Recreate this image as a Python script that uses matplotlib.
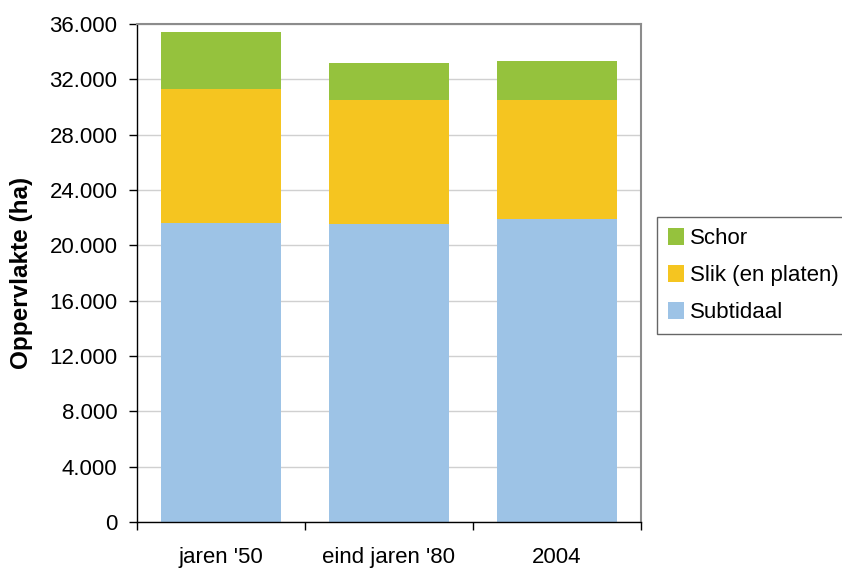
import numpy as np
import matplotlib.pyplot as plt
from matplotlib.ticker import FuncFormatter

plt.rcParams['font.family'] = ['Liberation Sans', 'DejaVu Sans']

categories = ["jaren '50", "eind jaren '80", "2004"]
subtidaal = [21620, 21520, 21880]
slik = [9680, 8990, 8630]
schor = [4130, 2680, 2820]

c_sub = '#9dc3e6'
c_slik = '#f5c520'
c_schor = '#95c23d'

fig = plt.figure(figsize=(8.42, 5.69), dpi=100)
ax = fig.add_axes([137/842, 47/569, 504/842, 498/569])

x = np.arange(len(categories))
w = 0.72
ax.bar(x, subtidaal, w, color=c_sub, label='Subtidaal', zorder=2)
ax.bar(x, slik, w, bottom=subtidaal, color=c_slik, label='Slik (en platen)', zorder=2)
bot = np.array(subtidaal) + np.array(slik)
ax.bar(x, schor, w, bottom=bot, color=c_schor, label='Schor', zorder=2)

ax.set_xlim(-0.5, len(categories) - 0.5)
ax.set_ylim(0, 36000)
ax.set_yticks(np.arange(0, 36001, 4000))
ax.yaxis.set_major_formatter(FuncFormatter(lambda v, p: f"{int(v):,}".replace(',', '.')))
ax.grid(axis='y', color='#d0d0d0', linewidth=1, zorder=0)

ax.set_xticks(x)
ax.set_xticklabels(categories)
ax.set_xticks(np.arange(-0.5, len(categories)), minor=True)
ax.tick_params(axis='x', which='major', length=0, pad=18, labelsize=16)
ax.tick_params(axis='x', which='minor', length=6, width=1)
ax.tick_params(axis='y', length=6, width=1, labelsize=16, pad=8)

for s in ['top', 'right']:
    ax.spines[s].set_color('#8c8c8c')
    ax.spines[s].set_linewidth(1.5)
for s in ['left', 'bottom']:
    ax.spines[s].set_color('black')
    ax.spines[s].set_linewidth(1)

ax.set_ylabel('Oppervlakte (ha)', fontsize=17.5, fontweight='bold')
ax.yaxis.set_label_coords(-104/504, 0.5)

h, l = ax.get_legend_handles_labels()
leg = fig.legend(h[::-1], l[::-1], loc='upper left', bbox_to_anchor=(657/842, 1 - 217/569),
                 fontsize=16, frameon=True, fancybox=False, handlelength=0.73, handleheight=0.8,
                 handletextpad=0.27, labelspacing=0.7, borderpad=0.5, borderaxespad=0)
leg.get_frame().set_edgecolor('#404040')
leg.get_frame().set_linewidth(1)

fig.savefig('out.png', dpi=100)
